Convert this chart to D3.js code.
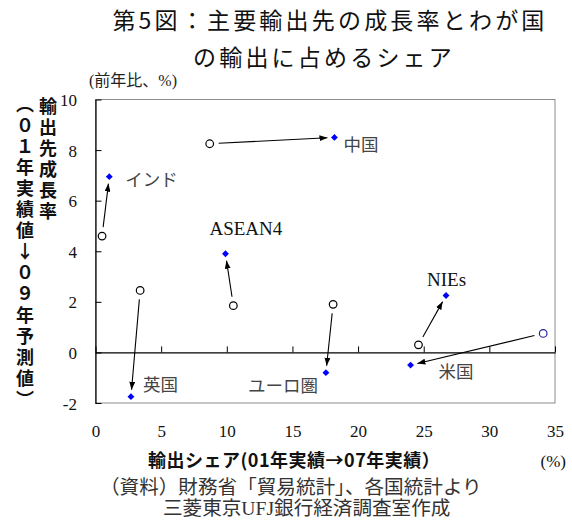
<!DOCTYPE html>
<html>
<head>
<meta charset="utf-8">
<script src="https://cdn.jsdelivr.net/npm/d3@7"></script>
<style>
  html, body { margin: 0; padding: 0; background: #fff; }
  svg { display: block; }
  .vtext { writing-mode: vertical-rl; text-orientation: upright; }
</style>
</head>
<body>
<div id="chart"></div>
<script>
// Export destinations
const categories = ["インド", "中国", "英国", "ASEAN4", "ユーロ圏", "NIEs", "米国"];
// Share of Japan's exports (%), 2001 actual and 2007 actual
const share01 = [0.5, 8.7, 3.4, 10.5, 18.1, 24.6, 34.1];
const share07 = [1.05, 18.2, 2.7, 9.9, 17.55, 26.7, 24.0];
// Growth rate of destination (% y/y), 2001 actual and 2009 forecast
const growth01 = [4.6, 8.25, 2.45, 1.85, 1.9, 0.3, 0.75];
const growth09 = [6.95, 8.5, -1.75, 3.9, -0.8, 2.25, -0.5];

const xTicks = [0, 5, 10, 15, 20, 25, 30, 35];
const yTicks = [-2, 0, 2, 4, 6, 8, 10];

const titleLines = ["第5図：主要輸出先の成長率とわが国", "の輸出に占めるシェア"];
const yUnit = "(前年比、%)";
const yTitleMain = "輸出先成長率";
const yTitleSub = "︵０１年実績値↓０９年予測値︶";
const xTitle = "輸出シェア(01年実績→07年実績）";
const xUnit = "(%)";
const sourceLines = ["（資料）財務省「貿易統計」、各国統計より", "三菱東京UFJ銀行経済調査室作成"];

// Label placement relative to the 2009 marker (pixels)
const labelPlacement = {
  "インド":   { dx: 16, dy: 9, anchor: "start" },
  "中国":     { dx: 9, dy: 14, anchor: "start" },
  "英国":     { dx: 12, dy: -6, anchor: "start" },
  "ASEAN4":   { dx: -16, dy: -19, anchor: "start" },
  "ユーロ圏": { dx: -8, dy: 19, anchor: "end" },
  "NIEs":     { dx: -19, dy: -10, anchor: "start" },
  "米国":     { dx: 28, dy: 13, anchor: "start" }
};

const W = 572, H = 527;
const plot = { left: 95.5, right: 555, top: 99.5, bottom: 403 };

const SERIF = "'Liberation Serif', 'Times New Roman', 'Noto Sans CJK JP', serif";
const GOTHIC = "'Noto Sans CJK JP', 'Noto Sans', sans-serif";

const svg = d3.select("#chart").append("svg")
  .attr("width", W).attr("height", H);

const x = d3.scaleLinear().domain([0, 35]).range([plot.left, plot.right]);
const y = d3.scaleLinear().domain([-2, 10]).range([plot.bottom, plot.top]);

// Title
svg.append("g").selectAll("text").data(titleLines).join("text")
  .attr("x", (d, i) => i === 0 ? 330 : 324)
  .attr("y", (d, i) => i === 0 ? 29 : 66)
  .attr("text-anchor", "middle")
  .style("font-family", GOTHIC)
  .style("font-size", "23px")
  .attr("letter-spacing", 3.2)
  .attr("fill", "#111")
  .text(d => d);

// Unit above the y axis
svg.append("text")
  .attr("x", 89).attr("y", 86)
  .style("font-family", SERIF)
  .style("font-size", "16px")
  .attr("fill", "#222")
  .text(yUnit);

// Plot frame
svg.append("rect")
  .attr("x", plot.left).attr("y", plot.top)
  .attr("width", plot.right - plot.left).attr("height", plot.bottom - plot.top)
  .attr("fill", "none").attr("stroke", "#8c8c8c").attr("stroke-width", 1);

// Y axis: inward ticks, labels on the left
const yAxis = svg.append("g")
  .attr("transform", `translate(${plot.left},0)`)
  .call(d3.axisLeft(y).tickValues(yTicks).tickSizeInner(-6).tickSizeOuter(0).tickPadding(18.5)
    .tickFormat(d => d < 0 ? "-" + Math.abs(d) : String(d)));
yAxis.select(".domain").attr("stroke", "#000").attr("stroke-width", 1.2);
yAxis.selectAll(".tick line").attr("stroke", "#000");
yAxis.selectAll(".tick text")
  .style("font-family", SERIF).style("font-size", "17px").attr("fill", "#111")
  .attr("dy", "0.36em");

// Zero line with upward tick marks
const xZero = svg.append("g")
  .attr("transform", `translate(0,${y(0)})`)
  .call(d3.axisBottom(x).tickValues(xTicks).tickSizeInner(-6).tickSizeOuter(0).tickFormat(""));
xZero.select(".domain").attr("stroke", "#000").attr("stroke-width", 1.2);
xZero.selectAll(".tick line").attr("stroke", "#000");

// X tick labels along the bottom of the plot
const xLabels = svg.append("g")
  .attr("transform", `translate(0,${plot.bottom})`)
  .call(d3.axisBottom(x).tickValues(xTicks).tickSize(0).tickPadding(22));
xLabels.select(".domain").remove();
xLabels.selectAll(".tick text")
  .style("font-family", SERIF).style("font-size", "17px").attr("fill", "#111");

// Axis titles
svg.append("text")
  .attr("x", 148).attr("y", 467)
  .style("font-family", GOTHIC).style("font-weight", "bold")
  .style("font-size", "18px").attr("letter-spacing", 0.5).attr("fill", "#111")
  .text(xTitle);
svg.append("text")
  .attr("x", 566).attr("y", 467)
  .attr("text-anchor", "end")
  .style("font-family", SERIF).style("font-size", "17px").attr("fill", "#111")
  .text(xUnit);

svg.append("text")
  .attr("class", "vtext")
  .attr("x", 48).attr("y", 97)
  .style("font-family", GOTHIC).style("font-weight", "bold")
  .style("font-size", "18px").attr("letter-spacing", 3).attr("fill", "#111")
  .text(yTitleMain);
svg.append("text")
  .attr("class", "vtext")
  .attr("x", 25).attr("y", 95)
  .style("font-family", GOTHIC).style("font-weight", "bold")
  .style("font-size", "18px").attr("letter-spacing", 3.07).attr("fill", "#111")
  .text(yTitleSub);

// Arrowhead
svg.append("defs").append("marker")
  .attr("id", "head")
  .attr("markerUnits", "userSpaceOnUse")
  .attr("viewBox", "0 0 8 6")
  .attr("refX", 8).attr("refY", 3)
  .attr("markerWidth", 8).attr("markerHeight", 6)
  .attr("orient", "auto")
  .append("path").attr("d", "M0,0 L8,3 L0,6 Z").attr("fill", "#000");

const pts = categories.map((c, i) => ({
  name: c,
  x0: x(share01[i]), y0: y(growth01[i]),
  x1: x(share07[i]), y1: y(growth09[i])
}));

// Arrows from 2001 position to the latest position
svg.append("g").selectAll("line").data(pts).join("line")
  .each(function (d) {
    const dx = d.x1 - d.x0, dy = d.y1 - d.y0;
    const len = Math.hypot(dx, dy);
    const ux = dx / len, uy = dy / len;
    const s = 9, e = 7;
    d3.select(this)
      .attr("x1", d.x0 + ux * s).attr("y1", d.y0 + uy * s)
      .attr("x2", d.x1 - ux * e).attr("y2", d.y1 - uy * e);
  })
  .attr("stroke", "#000").attr("stroke-width", 1.1)
  .attr("marker-end", "url(#head)");

// 2001 markers (open circles)
svg.append("g").selectAll("circle").data(pts).join("circle")
  .attr("cx", d => d.x0).attr("cy", d => d.y0).attr("r", 3.8)
  .attr("fill", "#fff")
  .attr("stroke", d => d.name === "米国" ? "#23239a" : "#000")
  .attr("stroke-width", 1.2);

// Latest markers (blue diamonds)
svg.append("g").selectAll("path").data(pts).join("path")
  .attr("d", d3.symbol().type(d3.symbolDiamond2).size(30))
  .attr("transform", d => `translate(${d.x1},${d.y1})`)
  .attr("fill", "#0000ff");

// Destination labels
svg.append("g").selectAll("text").data(pts).join("text")
  .attr("x", d => d.x1 + labelPlacement[d.name].dx)
  .attr("y", d => d.y1 + labelPlacement[d.name].dy)
  .attr("text-anchor", d => labelPlacement[d.name].anchor)
  .style("font-family", SERIF)
  .style("font-size", d => /^[A-Z]/.test(d.name) ? "19px" : "17.5px")
  .attr("fill", d => /^[A-Z]/.test(d.name) ? "#111" : "#444")
  .text(d => d.name);

// Source note
svg.append("g").selectAll("text").data(sourceLines).join("text")
  .attr("x", (d, i) => i === 0 ? 100 : 163)
  .attr("y", (d, i) => i === 0 ? 494 : 515)
  .style("font-family", SERIF)
  .style("font-size", "19.6px")
  .attr("fill", "#333")
  .text(d => d);
</script>
</body>
</html>
